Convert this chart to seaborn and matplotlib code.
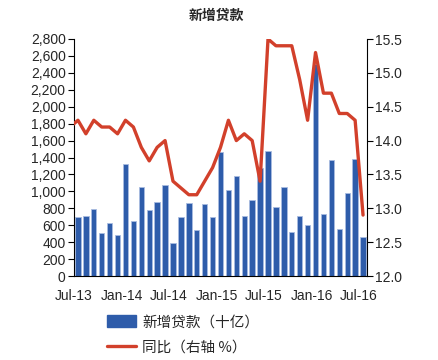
import numpy as np
import pandas as pd
import seaborn as sns
import matplotlib.pyplot as plt
from matplotlib.patches import Patch
from matplotlib.lines import Line2D

# monthly data, Jun-13 .. Jul-16 (Jun-13 sits just left of the axis and is clipped)
months = pd.date_range("2013-06-01", "2016-07-01", freq="MS").strftime("%b-%y").tolist()
new_loans = [860, 700, 711, 787, 506, 625, 483,
             1320, 644, 1050, 775, 871, 1080, 385, 702, 857, 548, 853, 697,
             1470, 1020, 1180, 708, 901, 1280, 1480, 810, 1050, 514, 709, 598,
             2510, 727, 1370, 556, 986, 1380, 463]
yoy = [14.2, 14.3, 14.1, 14.3, 14.2, 14.2, 14.1,
       14.3, 14.2, 13.9, 13.7, 13.9, 14.0, 13.4, 13.3, 13.2, 13.2, 13.4, 13.6,
       13.9, 14.3, 14.0, 14.1, 14.0, 13.4, 15.5, 15.4, 15.4, 15.4, 14.9, 14.3,
       15.3, 14.7, 14.7, 14.4, 14.4, 14.3, 12.9]
tick_labels = ["Jul-13", "Jan-14", "Jul-14", "Jan-15", "Jul-15", "Jan-16", "Jul-16"]

sns.set_style("white")
plt.rcParams['font.family'] = ['Liberation Sans', 'Noto Sans CJK SC', 'DejaVu Sans']

df = pd.DataFrame({"month": months, "loans": new_loans, "yoy": yoy})
df["pos"] = np.arange(len(df))

bar_color = "#2E5CAA"
line_color = "#D2402B"

fig = plt.figure(figsize=(4.39, 3.6), dpi=100)
ax = fig.add_axes([74 / 439, 1 - 276 / 360, (367 - 74) / 439, (276 - 39) / 360])

sns.barplot(data=df, x="month", y="loans", color=bar_color, width=0.68,
            edgecolor="#A9BCE0", linewidth=0.6, saturation=1, ax=ax)
ax.set_xlim(0.5, len(df) - 0.5)
ax.set_ylim(0, 2800)
ax.set_yticks(np.arange(0, 2801, 200))
ax.set_yticklabels([f"{v:,}" for v in range(0, 2801, 200)], fontsize=10)
ax.set_xticks([0.5 + 6 * i for i in range(len(tick_labels))])
ax.set_xticklabels(tick_labels, fontsize=10)
ax.set_xlabel("")
ax.set_ylabel("")

ax2 = ax.twinx()
sns.lineplot(data=df, x="pos", y="yoy", color=line_color, linewidth=2.4, ax=ax2)
ax2.set_ylim(12.0, 15.5)
ax2.set_yticks(np.arange(12.0, 15.51, 0.5))
ax2.set_yticklabels([f"{v:.1f}" for v in np.arange(12.0, 15.51, 0.5)], fontsize=10)
ax2.set_xlim(0.5, len(df) - 0.5)
ax2.set_ylabel("")

for a in (ax, ax2):
    a.spines["top"].set_visible(False)
    for s in ("left", "right", "bottom"):
        a.spines[s].set_color("black")
        a.spines[s].set_linewidth(0.8)
    a.tick_params(axis="both", direction="out", length=4, width=0.8, color="black", pad=2)
ax.tick_params(axis="x", pad=5)
ax.spines["right"].set_visible(False)
ax2.spines["left"].set_visible(False)
ax2.spines["bottom"].set_visible(False)

fig.text(216 / 439, 1 - 16 / 360, "新增贷款", ha="center", va="center",
         fontsize=10, fontweight="bold", family=['Noto Sans CJK SC'])

handles = [Patch(facecolor=bar_color, edgecolor=bar_color),
           Line2D([0], [0], color=line_color, linewidth=2.4)]
fig.legend(handles, ["新增贷款（十亿）", "同比（右轴 %）"], loc="upper left",
           bbox_to_anchor=(94 / 439, 1 - 302 / 360), frameon=False,
           handlelength=2.0, handleheight=0.8, labelspacing=0.8, handletextpad=0.4,
           prop={'family': ['Noto Sans CJK SC', 'DejaVu Sans'], 'size': 10.5})

fig.savefig("out.png", dpi=100)
